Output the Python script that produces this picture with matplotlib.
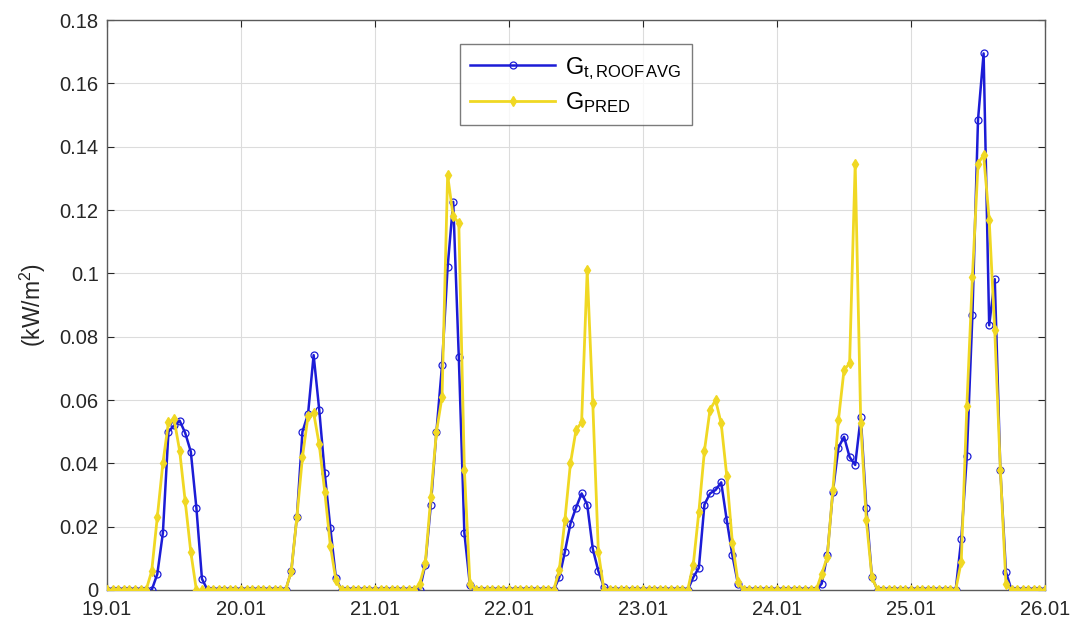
import numpy as np
import matplotlib
matplotlib.use("Agg")
import matplotlib.pyplot as plt

plt.rcParams['font.family'] = ['Liberation Sans', 'DejaVu Sans']
plt.rcParams['mathtext.fontset'] = 'custom'
plt.rcParams['mathtext.rm'] = 'Liberation Sans'
plt.rcParams['mathtext.it'] = 'Liberation Sans:italic'
plt.rcParams['mathtext.bf'] = 'Liberation Sans:bold'

# ---- data (hourly, kW/m2); daytime values for hours 8..18 of each day, night = 0
day_labels = ['19.01', '20.01', '21.01', '22.01', '23.01', '24.01', '25.01', '26.01']
first_hour = 8
meas_day = [
    [0, 0.005, 0.018, 0.050, 0.052, 0.0535, 0.0496, 0.0437, 0.026, 0.0035, 0],
    [0, 0.006, 0.023, 0.050, 0.0556, 0.0742, 0.057, 0.0368, 0.0195, 0.0037, 0],
    [0, 0.008, 0.027, 0.050, 0.071, 0.102, 0.1226, 0.0737, 0.018, 0.0015, 0],
    [0, 0.004, 0.012, 0.021, 0.026, 0.0305, 0.027, 0.013, 0.006, 0.001, 0],
    [0, 0.004, 0.007, 0.027, 0.0305, 0.0316, 0.034, 0.022, 0.011, 0.002, 0],
    [0.002, 0.011, 0.031, 0.045, 0.0484, 0.042, 0.0395, 0.0547, 0.0258, 0.004, 0],
    [0, 0.016, 0.0424, 0.087, 0.1486, 0.1695, 0.0836, 0.0982, 0.038, 0.0057, 0],
]
pred_day = [
    [0.006, 0.023, 0.040, 0.053, 0.054, 0.044, 0.028, 0.012, 0, 0, 0],
    [0, 0.006, 0.023, 0.042, 0.055, 0.056, 0.046, 0.031, 0.014, 0.003, 0],
    [0.002, 0.0084, 0.0295, 0.050, 0.061, 0.131, 0.118, 0.116, 0.038, 0.002, 0],
    [0, 0.0063, 0.022, 0.040, 0.0505, 0.053, 0.101, 0.059, 0.012, 0, 0],
    [0, 0.008, 0.0247, 0.044, 0.057, 0.060, 0.0526, 0.036, 0.015, 0.0026, 0],
    [0.005, 0.0105, 0.0316, 0.0537, 0.0695, 0.0716, 0.1347, 0.0526, 0.022, 0.004, 0],
    [0, 0.009, 0.058, 0.099, 0.1346, 0.1375, 0.117, 0.082, 0.038, 0.002, 0],
]

n_days = len(meas_day)
hours = np.arange(24 * n_days + 1)
t = hours / 24.0


def build(day_vals):
    y = np.zeros(len(hours))
    for d, vals in enumerate(day_vals):
        s = 24 * d + first_hour
        y[s:s + len(vals)] = vals
    return y


g_meas = build(meas_day)
g_pred = build(pred_day)

fig = plt.figure(figsize=(10.78, 6.30), dpi=100)
ax = fig.add_axes([0.0993, 0.0635, 0.8701, 0.9045])

blue = '#1c1cd6'
yellow = '#f0d823'
ax.plot(t, g_meas, color=blue, lw=1.8, marker='o', ms=5, mfc='none', mec=blue,
        mew=0.9, label=r'G$_{\mathrm{t,ROOF\,AVG}}$', zorder=3)
ax.plot(t, g_pred, color=yellow, lw=2.0, marker='d', ms=5.5, mfc=yellow, mec=yellow,
        label=r'G$_{\mathrm{PRED}}$', zorder=4)

ax.set_xlim(0, n_days)
ax.set_ylim(0, 0.18)
ax.set_xticks(np.arange(n_days + 1))
ax.set_xticklabels(day_labels)
yt = np.arange(0, 0.1801, 0.02)
ax.set_yticks(yt)
ax.set_yticklabels([f'{v:g}' for v in np.round(yt, 2)])
ax.grid(True, color='#dcdcdc', lw=0.8)
ax.set_axisbelow(True)
ax.tick_params(direction='in', length=5, labelsize=14.5, colors='#262626',
               top=True, right=True)
ax.tick_params(axis='y', pad=6)
ax.tick_params(axis='x', pad=7)
for sp in ax.spines.values():
    sp.set_color('#5a5a5a')
    sp.set_linewidth(1.0)
ax.set_ylabel(r'(kW/m$^2$)', fontsize=16.5, color='#262626', labelpad=8)

leg = ax.legend(loc='upper center', bbox_to_anchor=(0.4995, 0.958), fontsize=17,
                handlelength=3.6, frameon=True, fancybox=False, edgecolor='#5a5a5a',
                borderpad=0.45, labelspacing=0.35, handletextpad=0.4, borderaxespad=0)
leg.get_frame().set_linewidth(1.0)

fig.savefig('out.png', dpi=100, facecolor='white')
